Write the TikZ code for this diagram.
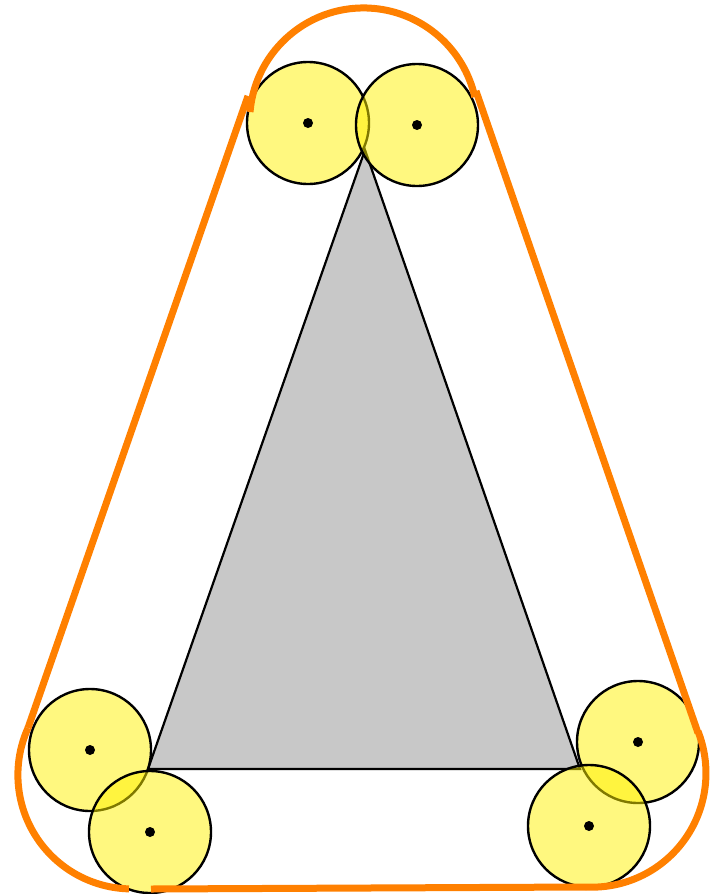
\documentclass[tikz,border=0pt]{standalone}
\begin{document}
\begin{tikzpicture}[x=1pt,y=-1pt,
  disc/.style={circle,draw=black,line width=2.4pt,fill=yellow,fill opacity=0.5,draw opacity=1,minimum size=122pt,inner sep=0pt},
  ctr/.style={circle,fill=black,minimum size=10pt,inner sep=0pt},
  hull/.style={draw={rgb,255:red,255;green,128;blue,0},line width=7pt,line cap=butt}]
\useasboundingbox (0,0) rectangle (717,894);
\fill[white] (0,0) rectangle (717,894);
% triangle
\coordinate (A) at (365,150);
\coordinate (B) at (148,769);
\coordinate (C) at (580,769);
\draw[fill={rgb,255:red,200;green,200;blue,200},line width=2.2pt,line join=miter] (A) -- (B) -- (C) -- cycle;
% discs
\node[disc] (d1) at (308,123) {};
\node[disc] (d2) at (417,125) {};
\node[disc] (d3) at (90,750) {};
\node[disc] (d4) at (150,832) {};
\node[disc] (d5) at (638,742) {};
\node[disc] (d6) at (589,826) {};
\foreach \n/\p in {c1/{(308,123)},c2/{(417,125)},c3/{(90,750)},c4/{(150,832)},c5/{(638,742)},c6/{(589,826)}}
  \node[ctr] (\n) at \p {};
% hull
\coordinate (t0) at (250,112);
\coordinate (t2) at (248,96);
\coordinate (l1) at (28,728);
\coordinate (r0) at (476,91);
\coordinate (r1) at (698,733);
\coordinate (b1) at (151,889);
\coordinate (b2) at (586,887);
\draw[hull] (t0) arc[start angle=-175,end angle=-12.6,radius=114];
\draw[hull] (t2) -- (l1);
\draw[hull] (r0) -- (r1);
\draw[hull] (l1) arc[start angle=-155.7,end angle=-268.5,radius=114];
\draw[hull] (b1) -- (b2);
\draw[hull] (b2) arc[start angle=93,end angle=-21.6,radius=114];
\end{tikzpicture}
\end{document}
